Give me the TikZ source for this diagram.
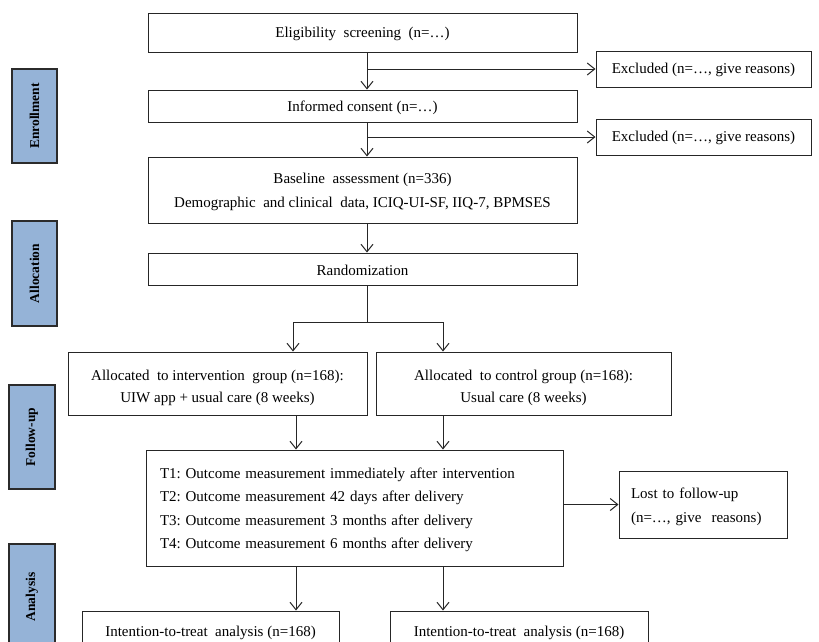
\documentclass[tikz,border=0pt]{standalone}
\usepackage{fontspec}
\setmainfont{Liberation Serif}
\usetikzlibrary{arrows.meta}
\definecolor{sideblue}{HTML}{95B3D7}
\definecolor{sideedge}{HTML}{2B2B2B}
\newcommand\mystrut[1]{\rule{0pt}{#1}}
\newcommand\widespaces{\spaceskip=4.8pt plus 1pt\relax}
\frenchspacing
\begin{document}
\begin{tikzpicture}[x=1pt,y=-1pt,
  box/.style={draw=black!85,line width=1pt,fill=white,inner sep=0pt,align=center,
    font=\fontsize{15}{23.5}\selectfont},
  lbox/.style={draw=black!85,line width=1pt,fill=white,inner sep=0pt,align=left,
    font=\fontsize{15}{23.5}\selectfont},
  side/.style={draw=sideedge,line width=1.3pt,fill=sideblue,inner sep=0pt,
    font=\fontsize{13.5}{16}\selectfont\bfseries},
  arr/.style={line width=1pt,draw=black!85,-{Straight Barb[length=7.5pt,width=12pt,line width=1pt]}},
  ln/.style={line width=1pt,draw=black!85}]
\useasboundingbox (0,0) rectangle (819,641);
\clip (0,0) rectangle (819,641);
\fill[white] (0,0) rectangle (819,641);

% side labels
\node[side,minimum width=45pt,minimum height=94pt] (enr) at (34.5,116) {\rotatebox{90}{Enrollment}};
\node[side,minimum width=45pt,minimum height=105pt] (alo) at (34.5,273.5) {\rotatebox{90}{Allocation}};
\node[side,minimum width=46pt,minimum height=104pt] (fol) at (32,437) {\rotatebox{90}{Follow-up}};
\node[side,minimum width=46pt,minimum height=106pt] (ana) at (32,597) {\rotatebox{90}{Analysis}};

% main boxes
\node[box,minimum width=429pt,minimum height=39pt] (elig) at (362.5,32.5) {\mystrut{13pt}Eligibility\ \ screening\ \ (n=…)};
\node[box,minimum width=215pt,minimum height=36pt] (exc1) at (703.5,69) {\mystrut{12.5pt}Excluded\ (n=…,\ give\ reasons)};
\node[box,minimum width=429pt,minimum height=32pt] (cons) at (362.5,106) {\mystrut{14pt}Informed consent (n=…)};
\node[box,minimum width=215pt,minimum height=36pt] (exc2) at (703.5,137) {\mystrut{12.5pt}Excluded\ (n=…,\ give\ reasons)};
\node[box,minimum width=429pt,minimum height=66pt,font=\fontsize{15}{24}\selectfont] (base) at (362.5,190) {\mystrut{13.5pt}Baseline\ \ assessment (n=336)\\Demographic\ \ and clinical\ \ data, ICIQ-UI-SF, IIQ-7, BPMSES};
\node[box,minimum width=429pt,minimum height=32pt] (rand) at (362.5,269) {\mystrut{14pt}Randomization};
\node[box,minimum width=299pt,minimum height=63pt,font=\fontsize{15}{22.5}\selectfont] (intv) at (217.5,383.5) {\mystrut{19pt}Allocated\ \ to intervention\ \ group (n=168):\\UIW app + usual care (8 weeks)};
\node[box,minimum width=295pt,minimum height=63pt,font=\fontsize{15}{22.5}\selectfont] (ctrl) at (523.5,383.5) {\mystrut{19pt}Allocated\ \ to control group (n=168):\\Usual care (8 weeks)};
\node[lbox,minimum width=417pt,minimum height=116pt,text width=389pt] (tbox) at (354.5,508) {\widespaces\mystrut{14.5pt}T1: Outcome measurement immediately after intervention\\T2: Outcome measurement 42 days after delivery\\T3: Outcome measurement 3 months after delivery\\T4: Outcome measurement 6 months after delivery};
\node[lbox,minimum width=168pt,minimum height=67pt,text width=144pt,font=\fontsize{15}{24}\selectfont] (lost) at (703,504.5) {\mystrut{15pt}Lost to follow-up\\(n=…, give\ \ reasons)};
\node[box,minimum width=257pt,minimum height=42pt] (itt1) at (210.5,632) {\mystrut{13pt}Intention-to-treat\ \ analysis (n=168)};
\node[box,minimum width=258pt,minimum height=42pt] (itt2) at (519,632) {\mystrut{13pt}Intention-to-treat\ \ analysis (n=168)};

% connectors
\coordinate (b1) at (367,69);
\coordinate (b2) at (367,137);
\draw[arr] (elig.south -| b1) -- (cons.north -| b1);
\draw[arr] (b1) -- (exc1.west);
\draw[arr] (cons.south -| b2) -- (base.north -| b2);
\draw[arr] (b2) -- (exc2.west);
\draw[arr] (base.south -| b2) -- (rand.north -| b2);
\coordinate (sp) at (367,322);
\coordinate (sl) at (293,322);
\coordinate (sr) at (443,322);
\draw[ln] (rand.south -| sp) -- (sp);
\draw[ln] (sl) -- (sr);
\draw[arr] (sl) -- (intv.north -| sl);
\draw[arr] (sr) -- (ctrl.north -| sr);
\coordinate (cl) at (296,0);
\coordinate (cr) at (443,0);
\draw[arr] (intv.south -| cl) -- (tbox.north -| cl);
\draw[arr] (ctrl.south -| cr) -- (tbox.north -| cr);
\draw[arr] (tbox.east |- lost.west) -- (lost.west);
\draw[arr] (tbox.south -| cl) -- (itt1.north -| cl);
\draw[arr] (tbox.south -| cr) -- (itt2.north -| cr);
\end{tikzpicture}
\end{document}
